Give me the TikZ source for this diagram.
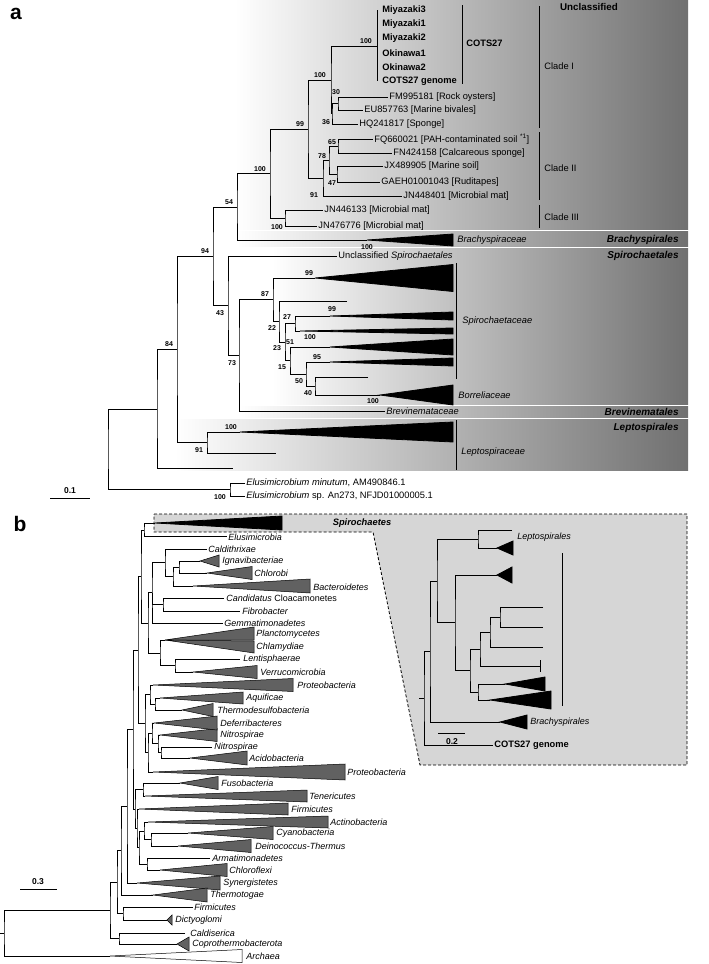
\documentclass[tikz,border=0pt]{standalone}
\usepackage{fontspec}
\setmainfont{Liberation Sans}
\tikzset{every picture/.style={line width=0.8pt}}
\tikzset{
  lf/.style={anchor=west,inner sep=1pt,font=\fontsize{9.3}{10}\selectfont},
  lfi/.style={lf,font=\fontsize{9.3}{10}\selectfont\itshape},
  lfb/.style={lf,font=\fontsize{9.3}{10}\selectfont\bfseries},
  btv/.style={inner sep=0pt,font=\fontsize{7}{8}\selectfont\bfseries},
  ordr/.style={anchor=east,inner sep=1pt,font=\fontsize{10}{11}\selectfont\bfseries\itshape},
  phy/.style={anchor=west,inner sep=1pt,font=\fontsize{9}{10}\selectfont\itshape},
  ins/.style={anchor=west,inner sep=1pt,font=\fontsize{9}{10}\selectfont\itshape},
  panel/.style={inner sep=0pt,font=\fontsize{21}{24}\selectfont\bfseries},
  bktri/.style={fill=black},
  gytri/.style={draw=black,fill=black!62,line width=0.5pt},
  whtri/.style={draw=black,fill=white,line width=0.5pt},
  cbar/.style={line width=1pt},
  band/.style={left color=white,right color=black!56},
}
% collapsed clade: name, apex x, y, right x, half height
\newcommand{\clade}[6][gytri]{%
  \coordinate (#2) at (#3,#4);
  \filldraw[#1] (#2) -- (#5,#4-#6) -- (#5,#4+#6) -- cycle;}

\begin{document}
\begin{tikzpicture}[x=1pt,y=1pt,yscale=-1,xscale=1]
\useasboundingbox (0,0) rectangle (709,964);

%Bands of panel a
\shade[band] (235,0) rectangle (688,229.5);
\shade[band] (237,231.5) rectangle (688,246);
\shade[band] (272,248) rectangle (688,404);
\shade[band] (240,406) rectangle (688,417);
\shade[band] (175,419) rectangle (688,470);

%Inset box of panel b
\draw[fill=black!16,dash pattern=on 3pt off 2pt] (154,514) -- (687,514) -- (687,765) -- (420,765) -- (373,532) -- (154,532) -- cycle;

% Panel labels
\node[panel] (pa) at (16,14) {a};
\node[panel] (pb) at (20,524) {b};

%%%%%%%% Panel a: Unclassified
\coordinate (m3) at (377,10);
\coordinate (cg) at (377,81);
\coordinate (c27) at (377,46);
\coordinate (p1) at (331,80);
\coordinate (n30) at (338,103.5);
\coordinate (fm) at (388,97);
\coordinate (eu) at (363,110);
\coordinate (n36) at (332,113.5);
\coordinate (hq) at (358,124);
\coordinate (n65) at (338,146);
\coordinate (fq) at (373,139);
\coordinate (fn) at (392,153);
\coordinate (n47) at (337,174);
\coordinate (jx) at (383,166);
\coordinate (ga) at (380,182);
\coordinate (n78) at (329,160);
\coordinate (n91) at (323,178);
\coordinate (jn1) at (402,196);
\coordinate (p2) at (308,129);
\coordinate (c3) at (285,218);
\coordinate (jn2) at (323,210);
\coordinate (jn3) at (317,226);
\coordinate (p3) at (270,173.5);
\coordinate (n54) at (237,207);
\clade[bktri]{brx}{367}{240}{453}{6};

\draw (m3) -- (cg);
\draw (c27) -| (p1) |- (n36);
\draw (fm) -| (n30) |- (eu);
\draw (n30) -| (n36) |- (hq);
\draw (fq) -| (n65) |- (fn);
\draw (jx) -| (n47) |- (ga);
\draw (n65) -| (n78) |- (n47);
\draw (n78) -| (n91) |- (jn1);
\draw (p1) -| (p2) |- (n91);
\draw (jn2) -| (c3) |- (jn3);
\draw (p2) -| (p3) |- (c3);
\draw (p3) -| (n54) |- (brx);

%%%%%%%% Panel a: Spirochaetales
\coordinate (n94) at (213,256.5);
\coordinate (n43) at (228,305.5);
\coordinate (us) at (337,256);
\coordinate (n73) at (239,355);
\coordinate (bv) at (385,411);
\coordinate (n87) at (273,299.5);
\clade[bktri]{t99a}{315}{278}{453}{13.5};
\coordinate (n22) at (279,321.5);
\coordinate (lf22) at (347,301);
\coordinate (n51) at (285,342);
\coordinate (n27) at (295,323.5);
\clade[bktri]{t99b}{330}{316}{453}{4};
\clade[bktri]{tw}{300}{331}{453}{3};
\coordinate (n15) at (290,360.5);
\clade[bktri]{t100}{330}{347}{453}{8};
\coordinate (n50) at (306,374);
\clade[bktri]{t95}{330}{362}{453}{4};
\coordinate (n40) at (315,386);
\coordinate (lf40) at (368,377);
\clade[bktri]{bo}{380}{395}{453}{10};

\draw (n54) -| (n94) |- (n43);
\draw (us) -| (n43) |- (n73);
\draw (n87) -| (n73) |- (bv);
\draw (t99a) -| (n87) |- (n22);
\draw (lf22) -| (n22) |- (n51);
\draw (n27) -| (n51) |- (n15);
\draw (t99b) -| (n27) |- (tw);
\draw (t100) -| (n15) |- (n50);
\draw (t95) -| (n50) |- (n40);
\draw (lf40) -| (n40) |- (bo);

%%%%%%%% Panel a: Leptospirales and root
\coordinate (n84) at (177,349.5);
\coordinate (nlp) at (207,442.5);
\clade[bktri]{tlp}{240}{432}{453}{10};
\coordinate (lf91) at (276,453);
\coordinate (r1) at (157,409);
\coordinate (lfr) at (233,468);
\coordinate (rt) at (108,449);
\coordinate (nel) at (230,489.5);
\coordinate (el1) at (245,483);
\coordinate (el2) at (245,496);

\draw (n94) -| (n84) |- (nlp);
\draw (tlp) -| (nlp) |- (lf91);
\draw (n84) -| (r1) |- (lfr);
\draw (r1) -| (rt) |- (nel);
\draw (el1) -| (nel) |- (el2);

%Clade bars
\coordinate (cb1) at (462,5);   \coordinate (cb2) at (462,84);
\coordinate (cl1) at (539,6);   \coordinate (cl2) at (539,128);
\coordinate (cl3) at (539,132); \coordinate (cl4) at (539,200);
\coordinate (cl5) at (539,205); \coordinate (cl6) at (539,228);
\coordinate (sp1) at (456,263); \coordinate (sp2) at (456,379);
\coordinate (lp1) at (456,420); \coordinate (lp2) at (456,470);
\draw[cbar] (cb1) -- (cb2);
\draw[cbar] (cl1) -- (cl2);
\draw[cbar] (cl3) -- (cl4);
\draw[cbar] (cl5) -- (cl6);
\draw[cbar] (sp1) -- (sp2);
\draw[cbar] (lp1) -- (lp2);

%Scale bar a
\coordinate (sa1) at (50,498); \coordinate (sa2) at (90,498);
\draw (sa1) -- (sa2);
\node[inner sep=0pt,font=\fontsize{8.5}{10}\selectfont\bfseries] (sal) at (70,491) {0.1};

% Text Node: leaves of panel a
\node[lfb] (tm3) at (381,10) {Miyazaki3};
\node[lfb] (tm1) at (381,24) {Miyazaki1};
\node[lfb] (tm2) at (381,38) {Miyazaki2};
\node[lfb] (to1) at (381,53) {Okinawa1};
\node[lfb] (to2) at (381,67) {Okinawa2};
\node[lfb] (tcg) at (381,81) {COTS27 genome};
\node[lf] (tfm) at (fm) {FM995181 [Rock oysters]};
\node[lf] (teu) at (eu) {EU857763 [Marine bivales]};
\node[lf] (thq) at (hq) {HQ241817 [Sponge]};
\node[lf] (tfq) at (fq) {FQ660021 [PAH-contaminated soil \textsuperscript{*1}]};
\node[lf] (tfn) at (fn) {FN424158 [Calcareous sponge]};
\node[lf] (tjx) at (jx) {JX489905 [Marine soil]};
\node[lf] (tga) at (ga) {GAEH01001043 [Ruditapes]};
\node[lf] (tjn1) at (jn1) {JN448401 [Microbial mat]};
\node[lf] (tjn2) at (jn2) {JN446133 [Microbial mat]};
\node[lf] (tjn3) at (jn3) {JN476776 [Microbial mat]};
\node[lfb] (tc27) at (465,43) {COTS27};
\node[lf] (tcl1) at (543,66) {Clade I};
\node[lf] (tcl2) at (543,168) {Clade II};
\node[lf] (tcl3) at (543,217) {Clade III};
\node[inner sep=0pt,font=\fontsize{9.8}{11}\selectfont\bfseries] (tun) at (589,7) {Unclassified};
\node[lfi] (tbr) at (456,240) {Brachyspiraceae};
\node[ordr] (obr) at (680,240) {Brachyspirales};
\node[lf] (tus) at (us) {Unclassified \textit{Spirochaetales}};
\node[ordr] (osp) at (680,256) {Spirochaetales};
\node[lfi] (tspc) at (461,321) {Spirochaetaceae};
\node[lfi] (tbo) at (457,395) {Borreliaceae};
\node[lfi] (tbv) at (bv) {Brevinemataceae};
\node[ordr] (obv) at (680,412) {Brevinematales};
\node[ordr] (olp) at (680,428) {Leptospirales};
\node[lfi] (tlpc) at (460,452) {Leptospiraceae};
\node[lf] (tel1) at (el1) {\textit{Elusimicrobium minutum}, AM490846.1};
\node[lf] (tel2) at (el2) {\textit{Elusimicrobium} sp. An273, NFJD01000005.1};

% Text Node: bootstrap values
\node[btv] (bs1) at (366,41) {100};
\node[btv] (bs2) at (320,75) {100};
\node[btv] (bs3) at (336,92) {30};
\node[btv] (bs4) at (326,122) {36};
\node[btv] (bs5) at (300,124) {99};
\node[btv] (bs6) at (332,142) {65};
\node[btv] (bs7) at (322,156) {78};
\node[btv] (bs8) at (332,183) {47};
\node[btv] (bs9) at (314,195) {91};
\node[btv] (bs10) at (277,227) {100};
\node[btv] (bs11) at (260,169) {100};
\node[btv] (bs12) at (229,202) {54};
\node[btv] (bs13) at (367,247) {100};
\node[btv] (bs14) at (205,251) {94};
\node[btv] (bs15) at (220,313) {43};
\node[btv] (bs16) at (232,363) {73};
\node[btv] (bs17) at (265,294) {87};
\node[btv] (bs18) at (309,273) {99};
\node[btv] (bs19) at (272,328) {22};
\node[btv] (bs20) at (287,317) {27};
\node[btv] (bs21) at (332,309) {99};
\node[btv] (bs22) at (290,342) {51};
\node[btv] (bs23) at (277,348) {23};
\node[btv] (bs24) at (310,337) {100};
\node[btv] (bs25) at (317,357) {95};
\node[btv] (bs26) at (282,367) {15};
\node[btv] (bs27) at (299,381) {50};
\node[btv] (bs28) at (308,393) {40};
\node[btv] (bs29) at (373,401) {100};
\node[btv] (bs30) at (169,344) {84};
\node[btv] (bs31) at (231,427) {100};
\node[btv] (bs32) at (199,450) {91};
\node[btv] (bs33) at (220,497) {100};

%%%%%%%% Panel b: upper clades
\coordinate (bA) at (144,530);
\clade[bktri]{spx}{155}{523}{282}{7};
\coordinate (elx) at (227,536);
\coordinate (cd) at (165,562.5);
\coordinate (cdx) at (207,549);
\coordinate (g1) at (173,576.5);
\coordinate (ic) at (179,567);
\clade{igx}{200}{561}{219}{6};
\clade{chx}{207}{573}{252}{6.5};
\clade{bax}{193}{586}{310}{7};
\coordinate (cf) at (163,604.5);
\coordinate (clx) at (224,598);
\coordinate (fbx) at (240,611);
\coordinate (bB) at (152,592.5);
\coordinate (gmx) at (223,623);
\coordinate (bC) at (160,653);
\coordinate (pcx) at (165,640);
\filldraw[gytri] (pcx) -- (254,627) -- (254,640) -- cycle;
\filldraw[gytri] (pcx) -- (254,641) -- (254,653) -- cycle;
\coordinate (lv) at (175,665.5);
\coordinate (lex) at (240,659);
\clade{vex}{193}{672}{257}{6.5};
\coordinate (bD) at (148,623);
\coordinate (bE) at (141,576.5);

\draw (spx) -| (bA) |- (elx);
\draw (igx) -| (ic) |- (chx);
\draw (ic) -| (g1) |- (bax);
\draw (cdx) -| (cd) |- (g1);
\draw (clx) -| (cf) |- (fbx);
\draw (cd) -| (bB) |- (gmx);
\draw (bB) |- (cf);
\draw (lex) -| (lv) |- (vex);
\draw (pcx) -| (bC) |- (lv);
\draw (bB) -| (bD) |- (bC);
\draw (bA) -| (bE) |- (bD);

%%%%%%%% Panel b: middle clades
\coordinate (bQ) at (155,704);
\clade{aqx}{160}{698}{243}{6};
\clade{thx}{182}{710}{213}{6.5};
\coordinate (bP) at (150,694.5);
\clade{p1x}{153}{685}{293}{6.5};
\coordinate (bS) at (161,752.5);
\coordinate (n2x) at (212,747);
\clade{acx}{190}{758}{247}{7};
\coordinate (bR) at (158,743.75);
\clade{n1x}{160}{735}{217}{6.5};
\coordinate (bT) at (152,733.4);
\clade{dfx}{154}{723}{217}{7};
\coordinate (bV) at (148,752.7);
\clade{p2x}{153}{772}{345}{8};
\coordinate (bW) at (145,723.6);
\coordinate (bU) at (138,650);

\draw (aqx) -| (bQ) |- (thx);
\draw (p1x) -| (bP) |- (bQ);
\draw (n2x) -| (bS) |- (acx);
\draw (n1x) -| (bR) |- (bS);
\draw (dfx) -| (bT) |- (bR);
\draw (bT) -| (bV) |- (p2x);
\draw (bP) -| (bW) |- (bV);
\draw (bE) -| (bU) |- (bW);

%%%%%%%% Panel b: lower clades and root
\coordinate (bFT) at (143,789.5);
\clade{fux}{180}{783}{218}{6.5};
\clade{tex}{145}{796}{307}{6};
\coordinate (bCD) at (151,839.5);
\clade{cyx}{188}{833}{273}{6.5};
\clade{dex}{178}{846}{251}{6.5};
\coordinate (bACD) at (144,831);
\clade{atx}{148}{822}{328}{6};
\coordinate (bAC) at (147,864);
\coordinate (arx) at (210,858);
\clade{clfx}{160}{870}{227}{6.5};
\coordinate (bN7) at (139,847.5);
\coordinate (bN6) at (137,828);
\clade{f1x}{139}{809}{288}{6};
\coordinate (bN5) at (135,809);
\coordinate (bN4) at (133,729.5);
\coordinate (bN3) at (127,806);
\clade{syx}{137}{883}{220}{7};
\coordinate (bN2) at (121,850.5);
\clade{tgx}{153}{895}{207}{7};
\coordinate (bFD) at (123,913.5);
\coordinate (f2x) at (193,907);
\clade{dix}{167}{920}{172}{5};
\coordinate (bN1) at (117,882);
\coordinate (bCC) at (119,938.5);
\coordinate (cax) at (185,933);
\clade{cox}{177}{944}{189}{7};
\coordinate (bN0) at (110,910);
\coordinate (broot) at (4,933);
\coordinate (bstub) at (0,933);
\clade[whtri]{arcx}{110}{956}{242}{6.5};

\draw (fux) -| (bFT) |- (tex);
\draw (cyx) -| (bCD) |- (dex);
\draw (atx) -| (bACD) |- (bCD);
\draw (arx) -| (bAC) |- (clfx);
\draw (bACD) -| (bN7) |- (bAC);
\draw (f1x) -| (bN6) |- (bN7);
\draw (bFT) -| (bN5) |- (bN6);
\draw (bU) -| (bN4) |- (bN5);
\draw (bN4) -| (bN3) |- (syx);
\draw (bN3) -| (bN2) |- (tgx);
\draw (f2x) -| (bFD) |- (dix);
\draw (bN2) -| (bN1) |- (bFD);
\draw (cax) -| (bCC) |- (cox);
\draw (bN1) -| (bN0) |- (bCC);
\draw (bN0) -| (broot) |- (arcx);
\draw (bstub) -- (broot);

%Scale bar b
\coordinate (sb1) at (20,889); \coordinate (sb2) at (57,889);
\draw (sb1) -- (sb2);
\node[inner sep=0pt,font=\fontsize{8.5}{10}\selectfont\bfseries] (sbl) at (38,882) {0.3};

% Text Node: phyla of panel b
\node[inner sep=0pt,font=\fontsize{9.3}{10}\selectfont\bfseries\itshape] (tsp) at (362,523) {Spirochaetes};
\node[phy] (b01) at (227,537) {Elusimicrobia};
\node[phy] (b02) at (207,549) {Caldithrixae};
\node[phy] (b03) at (221,561) {Ignavibacteriae};
\node[phy] (b04) at (253,573) {Chlorobi};
\node[phy] (b05) at (312,587) {Bacteroidetes};
\node[phy] (b06) at (225,598) {Candidatus \textup{Cloacamonetes}};
\node[phy] (b07) at (241,611) {Fibrobacter};
\node[phy] (b08) at (223,623) {Gemmatimonadetes};
\node[phy] (b09) at (255,634) {Planctomycetes};
\node[phy] (b10) at (255,647) {Chlamydiae};
\node[phy] (b11) at (242,659) {Lentisphaerae};
\node[phy] (b12) at (259,672) {Verrucomicrobia};
\node[phy] (b13) at (296,685) {Proteobacteria};
\node[phy] (b14) at (245,698) {Aquificae};
\node[phy] (b15) at (216,710) {Thermodesulfobacteria};
\node[phy] (b16) at (219,723) {Deferribacteres};
\node[phy] (b17) at (219,735) {Nitrospirae};
\node[phy] (b18) at (213,747) {Nitrospirae};
\node[phy] (b19) at (248,758) {Acidobacteria};
\node[phy] (b20) at (346,772) {Proteobacteria};
\node[phy] (b21) at (220,783) {Fusobacteria};
\node[phy] (b22) at (308,796) {Tenericutes};
\node[phy] (b23) at (290,809) {Firmicutes};
\node[phy] (b24) at (329,822) {Actinobacteria};
\node[phy] (b25) at (275,833) {Cyanobacteria};
\node[phy] (b26) at (254,846) {Deinococcus-Thermus};
\node[phy] (b27) at (211,858) {Armatimonadetes};
\node[phy] (b28) at (228,870) {Chloroflexi};
\node[phy] (b29) at (222,883) {Synergistetes};
\node[phy] (b30) at (209,895) {Thermotogae};
\node[phy] (b31) at (193,907) {Firmicutes};
\node[phy] (b32) at (174,920) {Dictyoglomi};
\node[phy] (b33) at (189,933) {Caldiserica};
\node[phy] (b34) at (191,944) {Coprothermobacterota};
\node[phy] (b35) at (245,956) {Archaea};

%%%%%%%% Inset of panel b
\coordinate (iL1) at (512,530);
\clade[bktri]{iL2}{497}{548}{513}{7};
\coordinate (iLp) at (478,539);
\clade[bktri]{iT3}{497}{575}{512}{8};
\coordinate (iL4) at (543,607);
\coordinate (iL5) at (543,627);
\coordinate (iL6) at (543,647);
\coordinate (iFa) at (540,660);
\coordinate (iFb) at (540,672);
\coordinate (iF) at (540,666);
\clade[bktri]{iT9}{505}{684}{545}{7};
\clade[bktri]{iT10}{490}{700}{551}{9};
\clade[bktri]{iBr}{500}{722}{527}{7};
\coordinate (iCO) at (493,745);
\coordinate (iq1) at (500,617);
\coordinate (iq2) at (490,632);
\coordinate (iq3) at (480,649);
\coordinate (iq4) at (478,692);
\coordinate (iq5) at (470,670.5);
\coordinate (iq6) at (455,622.75);
\coordinate (iq7) at (437,580.9);
\coordinate (iq8) at (430,651.5);
\coordinate (irt) at (424,698);
\coordinate (ist) at (419,698);

\draw (iL1) -| (iLp) |- (iL2);
\draw (iFa) -- (iFb);
\draw (iL4) -| (iq1) |- (iL5);
\draw (iq1) -| (iq2) |- (iL6);
\draw (iq2) -| (iq3) |- (iF);
\draw (iT9) -| (iq4) |- (iT10);
\draw (iq3) -| (iq5) |- (iq4);
\draw (iT3) -| (iq6) |- (iq5);
\draw (iLp) -| (iq7) |- (iq6);
\draw (iq7) -| (iq8) |- (iBr);
\draw (iq8) -| (irt) |- (iCO);
\draw (ist) -- (irt);

\coordinate (ib1) at (562,553); \coordinate (ib2) at (562,706);
\draw[cbar] (ib1) -- (ib2);
\coordinate (is1) at (438,733); \coordinate (is2) at (465,733);
\draw (is1) -- (is2);
\node[inner sep=0pt,font=\fontsize{8.5}{10}\selectfont\bfseries] (isl) at (452,742) {0.2};
\node[ins] (ilp) at (516,537) {Leptospirales};
\node[ins] (ibr) at (529,722) {Brachyspirales};
\node[anchor=west,inner sep=1pt,font=\fontsize{9.3}{10}\selectfont\bfseries] (ico) at (iCO) {COTS27 genome};

\end{tikzpicture}
\end{document}
